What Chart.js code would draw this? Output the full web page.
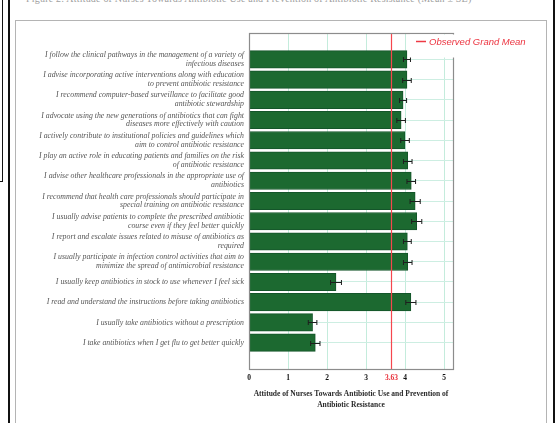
<!DOCTYPE html>
<html>
<head>
<meta charset="utf-8">
<script src="https://cdn.jsdelivr.net/npm/chart.js@4.4.1/dist/chart.umd.min.js"></script>
<style>
  html, body { margin: 0; padding: 0; background: #fff; width: 555px; height: 423px; overflow: hidden; }
  #page { position: absolute; left: 0; top: 0; width: 555px; height: 423px; }
  .caption { position: absolute; left: 26px; top: -7px; font: 10px "Liberation Serif", serif; color: #a0a0a0; white-space: nowrap; letter-spacing: 0.2px; }
  .sidebox { position: absolute; left: 0; top: 0; width: 2px; height: 181px; border-right: 1px solid #111; border-bottom: 1px solid #111; }
  .rule-left { position: absolute; left: 8px; top: 0; width: 2px; height: 423px; background: #111; }
  .rule-right { position: absolute; left: 553px; top: 0; width: 2px; height: 423px; background: #111; }
  .frame { position: absolute; left: 15px; top: 20px; width: 530px; height: 420px; border: 1.5px solid #b4b4b4; }
  canvas { position: absolute; left: 0; top: 0; }
</style>
</head>
<body>
<div id="page">
  <div class="caption">Figure 2: Attitude of Nurses Towards Antibiotic Use and Prevention of Antibiotic Resistance (Mean ± SE)</div>
  <div class="sidebox"></div>
  <div class="rule-left"></div>
  <div class="rule-right"></div>
  <div class="frame"></div>
  <canvas id="chart" width="555" height="423"></canvas>
</div>
<script>
// Survey statements (two-line labels), top to bottom
const statements = [
  ['I follow the clinical pathways in the management of a variety of', 'infectious diseases'],
  ['I advise incorporating active interventions along with education', 'to prevent antibiotic resistance'],
  ['I recommend computer-based surveillance to facilitate good', 'antibiotic stewardship'],
  ['I advocate using the new generations of antibiotics that can fight', 'diseases more effectively with caution'],
  ['I actively contribute to institutional policies and guidelines which', 'aim to control antibiotic resistance'],
  ['I play an active role in educating patients and families on the risk', 'of antibiotic resistance'],
  ['I advise other healthcare professionals in the appropriate use of', 'antibiotics'],
  ['I recommend that health care professionals should participate in', 'special training on antibiotic resistance'],
  ['I usually advise patients to complete the prescribed antibiotic', 'course even if they feel better quickly'],
  ['I report and escalate issues related to misuse of antibiotics as', 'required'],
  ['I usually participate in infection control activities that aim to', 'minimize the spread of antimicrobial resistance'],
  ['I usually keep antibiotics in stock to use whenever I feel sick'],
  ['I read and understand the instructions before taking antibiotics'],
  ['I usually take antibiotics without a prescription'],
  ['I take antibiotics when I get flu to get better quickly']
];

// Mean attitude score per statement
const meanScores = [4.05, 4.05, 3.95, 3.90, 4.00, 4.07, 4.16, 4.26, 4.30, 4.06, 4.07, 2.23, 4.15, 1.63, 1.70];

// Standard error per statement
const stdErrors = [0.09, 0.11, 0.09, 0.11, 0.11, 0.11, 0.11, 0.13, 0.13, 0.10, 0.11, 0.14, 0.13, 0.11, 0.12];

// Observed grand mean
const grandMean = 3.63;
const legendText = 'Observed Grand Mean';

// X axis ticks
const xTicks = [0, 1, 2, 3, 4, 5];
const xTitle = ['Attitude of Nurses Towards Antibiotic Use and Prevention of', 'Antibiotic Resistance'];

const barPoints = meanScores.map((v, i) => ({ x: v, y: i }));

const overlay = {
  id: 'overlay',
  afterDatasetsDraw(chart) {
    const { ctx, chartArea: a, scales: { x, y } } = chart;
    ctx.save();

    // error bars
    ctx.strokeStyle = '#1e1e1e';
    ctx.lineWidth = 1;
    meanScores.forEach((m, i) => {
      const yc = Math.round(y.getPixelForValue(i)) + 0.5;
      const x0 = x.getPixelForValue(m - stdErrors[i]);
      const x1 = x.getPixelForValue(m + stdErrors[i]);
      ctx.beginPath();
      ctx.moveTo(x0, yc); ctx.lineTo(x1, yc);
      ctx.moveTo(x0, yc - 2.5); ctx.lineTo(x0, yc + 2.5);
      ctx.moveTo(x1, yc - 2.5); ctx.lineTo(x1, yc + 2.5);
      ctx.stroke();
    });

    // grand mean reference line
    const gx = Math.round(x.getPixelForValue(grandMean)) + 0.5;
    ctx.strokeStyle = '#f6464e';
    ctx.lineWidth = 1.2;
    ctx.beginPath();
    ctx.moveTo(gx, a.top); ctx.lineTo(gx, a.bottom);
    ctx.stroke();

    // plot frame
    ctx.strokeStyle = '#8c8c8c';
    ctx.lineWidth = 1.2;
    ctx.strokeRect(a.left + 0.5, a.top + 0.5, a.right - a.left, a.bottom - a.top);

    // legend
    ctx.fillStyle = '#fff';
    ctx.fillRect(410, a.top + 1.5, 128, 23);
    ctx.strokeStyle = '#ee3a44';
    ctx.lineWidth = 1.5;
    ctx.beginPath();
    ctx.moveTo(416, 41.5); ctx.lineTo(426, 41.5);
    ctx.stroke();
    ctx.fillStyle = '#ec3440';
    ctx.font = 'italic 9.5px "Liberation Sans", sans-serif';
    ctx.textAlign = 'left';
    ctx.textBaseline = 'middle';
    ctx.fillText(legendText, 429, 42);

    // grand mean value on the axis
    ctx.fillStyle = '#e8303a';
    ctx.font = 'bold 7.5px "Liberation Serif", serif';
    ctx.textAlign = 'center';
    ctx.fillText(grandMean.toFixed(2), gx, a.bottom + 9.5);

    ctx.restore();
  }
};

new Chart(document.getElementById('chart'), {
  type: 'bar',
  data: {
    datasets: [{
      data: barPoints,
      backgroundColor: '#1c6930',
      borderColor: '#14552a',
      borderWidth: 1,
      barThickness: 17.5
    }]
  },
  options: {
    indexAxis: 'y',
    responsive: false,
    animation: false,
    devicePixelRatio: 1,
    layout: { padding: { top: 33, right: 102, bottom: 0, left: 0 } },
    plugins: { legend: { display: false }, tooltip: { enabled: false } },
    scales: {
      x: {
        type: 'linear',
        min: 0,
        max: 5.23,
        afterBuildTicks: s => { s.ticks = xTicks.map(v => ({ value: v })); },
        afterFit: s => { s.height = 54; },
        grid: {
          color: c => (c.tick && c.tick.value === 0) ? 'rgba(0,0,0,0)' : '#c4ecdc',
          drawTicks: false,
          lineWidth: 1
        },
        border: { display: true, color: '#8c8c8c' },
        ticks: {
          padding: 5,
          color: '#111',
          font: { family: '"Liberation Serif", serif', size: 7.5, weight: 'bold' }
        },
        title: {
          display: true,
          text: xTitle,
          color: '#2a2a2a',
          padding: { top: 0, bottom: 13 },
          font: { family: '"Liberation Serif", serif', size: 7.5, weight: 'bold', lineHeight: 1.4 }
        }
      },
      y: {
        type: 'linear',
        reverse: true,
        offset: false,
        min: -1.3,
        max: 15.3,
        afterBuildTicks: s => { s.ticks = statements.map((_, i) => ({ value: i })); },
        afterFit: s => { s.width = 249; },
        grid: { color: '#cdeee2', drawTicks: false, lineWidth: 1, offset: false },
        border: { display: true, color: '#8c8c8c' },
        ticks: {
          autoSkip: false,
          padding: 5,
          color: '#555',
          callback: v => statements[v] || '',
          font: { family: '"Liberation Serif", serif', size: 7.8, style: 'italic', lineHeight: 1.12 }
        }
      }
    }
  },
  plugins: [overlay]
});
</script>
</body>
</html>
